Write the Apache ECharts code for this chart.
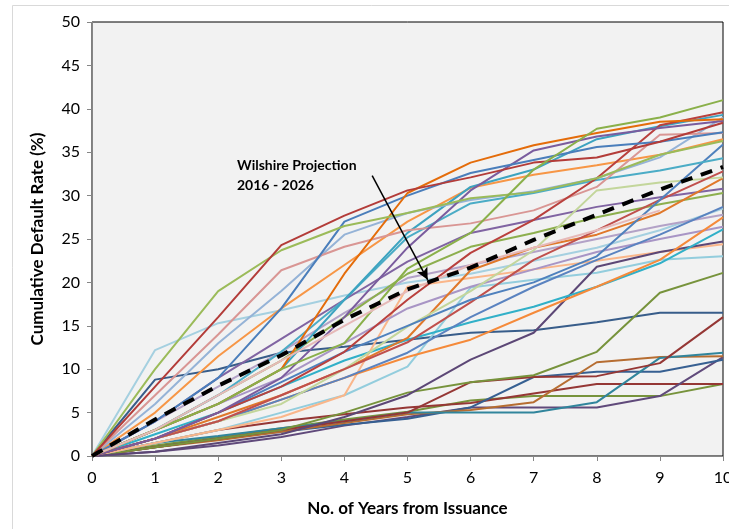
<!DOCTYPE html>
<html>
<head>
<meta charset="utf-8">
<script src="https://cdn.jsdelivr.net/npm/echarts@6/dist/echarts.min.js"></script>
<style>
  html, body { margin: 0; padding: 0; background: #fff; }
  #chart { width: 729px; height: 529px; }
</style>
</head>
<body>
<div id="chart"></div>
<script>
// years from issuance
const years = [0, 1, 2, 3, 4, 5, 6, 7, 8, 9, 10];

// cumulative default rate (%) by vintage
const vGreenTop = [0, 3, 6, 10, 13, 21.6, 25.7, 33, 37.7, 39, 41];
const vRedA = [0, 8, 16, 24.3, 27.7, 30.6, 32.1, 33.8, 34.4, 36.2, 38.4];
const vGreenB = [0, 10, 19, 23.7, 26.5, 28, 29.7, 30.4, 32, 34.7, 36.3];
const vOrangeA = [0, 3, 6, 10, 21, 30.3, 33.8, 35.8, 37.2, 38.5, 38.8];
const vBlueA = [0, 4, 9, 17, 27, 30, 32.6, 34.1, 35.6, 36.2, 37.3];
const vPurpleA = [0, 2, 5, 9, 16, 24, 30.6, 35.2, 36.8, 37.8, 38.6];
const vRedB = [0, 2, 5, 8, 12, 18, 23.4, 27.2, 32, 38.1, 39.6];
const vRose = [0, 7, 14, 21.4, 24.1, 26, 26.8, 28.3, 31, 37, 37.2];
const vPeriwinkle = [0, 6, 13, 19, 25.5, 28, 29.5, 30.5, 32, 34.4, 39];
const vTealA = [0, 3, 6, 10, 18, 25.7, 31, 33, 36.5, 38, 39.3];
const vLightOrange = [0, 5, 11.5, 17, 22, 27, 30.9, 32.4, 33.5, 34.7, 36.5];
const vSky = [0, 3, 7, 12, 18, 25.2, 29.1, 30.3, 31.8, 32.9, 34.3];
const vSteel = [0, 2, 5, 8.5, 12, 15, 18, 20, 23, 29.5, 35.9];
const vRedC = [0, 2, 4, 7, 10, 13.1, 17.7, 22.6, 26, 29.5, 32.8];
const vLightGreen = [0, 2, 4, 6, 10, 14.9, 19, 23.7, 30.6, 31.5, 32.1];
const vOrangeB = [0, 2, 4.5, 7, 10, 13.6, 21.4, 24, 25.5, 28, 32];
const vPurpleB = [0, 4, 9, 13.5, 18, 22.4, 25.7, 27.2, 28.7, 29.8, 30.8];
const vGreenC = [0, 3, 7, 11, 16, 21, 24.1, 25.7, 27.5, 29, 30.3];
const vBlueB = [0, 2, 4, 6.5, 9, 11.9, 16, 19.5, 22.6, 25.5, 28.7];
const vLavender = [0, 4, 8, 12, 16.5, 20.5, 22, 23.5, 25, 26.5, 27.8];
const vOrangeC = [0, 2, 4, 6.5, 9, 11.4, 13.4, 16.5, 19.5, 22.6, 27.5];
const vMauve = [0, 3, 6, 9, 13, 17, 19.5, 21.5, 23.5, 25, 26.4];
const vTealB = [0, 2.5, 5, 8, 11, 13.4, 15.4, 17.2, 19.5, 22.2, 26.1];
const vDarkPurple = [0, 0.5, 1.5, 2.5, 4.5, 7, 11.1, 14.2, 21.8, 23.5, 24.7];
const vPeach = [0, 1.5, 3, 4.5, 7, 19.5, 20.5, 21.5, 22.5, 23.5, 24.4];
const vLightSky = [0, 1.5, 3, 5, 7, 10.3, 19.4, 20.3, 21.1, 22.6, 23];
const vIce = [0, 12.2, 15.3, 16.8, 18.5, 20, 21, 22.5, 24, 26, 28.5];
const vGreenD = [0, 1, 2, 3, 5, 7.3, 8.5, 9.3, 12, 18.8, 21.1];
const vNavy = [0, 8.8, 10, 11.9, 12.6, 13.4, 14.2, 14.5, 15.4, 16.5, 16.5];
const vRedD = [0, 1, 2, 3, 4, 5, 8.5, 9.1, 9.2, 10.7, 16];
const vTealC = [0, 1.5, 2.3, 3.2, 4, 5, 5, 5, 6.2, 11.3, 11.9];
const vBrown = [0, 1, 1.8, 2.8, 3.8, 4.8, 5.3, 6.2, 10.8, 11.4, 11.5];
const vBlueC = [0, 1, 2, 2.8, 3.6, 4.3, 5.6, 9.1, 9.7, 9.7, 11.1];
const vPurpleC = [0, 0.5, 1.2, 2.2, 3.5, 4.5, 5.6, 5.6, 5.6, 6.9, 11.4];
const vDarkRed = [0, 1.5, 3, 4, 4.8, 5.6, 6.1, 7.2, 8.3, 8.3, 8.3];
const vGreenFlat = [0, 1.2, 2.2, 3.2, 4.2, 5.1, 6.4, 6.9, 6.9, 6.9, 8.3];
const vPalePink = [0, 3, 7, 11, 15, 19, 22, 24, 26, 28.3, null];

// Wilshire projection 2016 - 2026
const projection = [0, 4.2, 8.1, 11.6, 15.7, 19.2, 21.7, 24.9, 27.8, 30.7, 33.3];

const yTicks = { min: 0, max: 50, interval: 5 };
const annoText = "Wilshire Projection\n2016 - 2026";
// arrow in data units: from text to the dashed line
const arrowFrom = [4.44, 32.3];
const arrowTo = [5.32, 20.3];

const vintages = [
  [vGreenFlat, "#77933C"], [vDarkRed, "#953735"], [vPurpleC, "#604A7B"],
  [vBlueC, "#376092"], [vBrown, "#B66D31"], [vTealC, "#31859C"],
  [vRedD, "#953735"], [vNavy, "#385D8A"], [vGreenD, "#77933C"],
  [vIce, "#A5D0E0"], [vLightSky, "#93CDDD"], [vPeach, "#FAB68A"],
  [vDarkPurple, "#5C4776"], [vTealB, "#31B0C8"], [vMauve, "#A895C5"],
  [vOrangeC, "#F58A3A"], [vLavender, "#B3A2C7"], [vBlueB, "#5A83C0"],
  [vGreenC, "#8DAF4E"], [vPurpleB, "#8064A2"], [vOrangeB, "#E0782A"],
  [vLightGreen, "#C3D69B"], [vRedC, "#C0504D"], [vSteel, "#4F81BD"],
  [vSky, "#4BACC6"], [vLightOrange, "#F79646"], [vTealA, "#3CA3C0"],
  [vPeriwinkle, "#95B3D7"], [vRose, "#D99694"], [vRedB, "#B9403D"],
  [vPurpleA, "#7A5C9E"], [vBlueA, "#4A7EBB"], [vOrangeA, "#E46C0A"],
  [vGreenB, "#9BBB59"], [vRedA, "#B33C39"], [vGreenTop, "#8AB04A"],
  [vPalePink, "#E6B9B8"]
];

const toPairs = (vals) => years.map((x, i) => [x, vals[i]]);

const series = vintages.map(([vals, color]) => ({
  type: "line",
  data: toPairs(vals),
  symbol: "none",
  silent: true,
  lineStyle: { color: color, width: 2 },
}));

series.push({
  type: "line",
  data: toPairs(projection),
  symbol: "none",
  silent: true,
  z: 5,
  lineStyle: { color: "#000", width: 4, type: [12, 9] },
  markLine: {
    silent: true,
    symbol: ["none", "arrow"],
    symbolSize: [9, 12],
    label: { show: false },
    lineStyle: { color: "#000", width: 1.5, type: "solid" },
    data: [[{ coord: arrowFrom }, { coord: arrowTo }]],
  },
});

var chart = echarts.init(document.getElementById("chart"));
chart.setOption({
  animation: false,
  textStyle: { fontFamily: "Lato" },
  grid: {
    left: 92, right: 6, top: 22, bottom: 73,
    outerBoundsMode: "none", containLabel: false,
    show: true, backgroundColor: "#F2F2F2",
    borderColor: "#000", borderWidth: 1,
  },
  graphic: [
    {
      type: "rect", silent: true, z: -10,
      shape: { x: 12.5, y: 5.5, width: 800, height: 600 },
      style: { fill: "#fff", stroke: "#D9D9D9", lineWidth: 1 },
    },
    {
      type: "text", left: 237, top: 155, z: 20,
      style: {
        text: annoText, fill: "#000", font: "bold 14px Lato",
        align: "center", lineHeight: 20,
      },
    },
  ],
  xAxis: {
    type: "value", min: 0, max: 10, interval: 1,
    name: "No. of Years from Issuance", nameLocation: "middle", nameGap: 44,
    nameTextStyle: { fontSize: 17, fontWeight: "bold", color: "#000" },
    axisLine: { lineStyle: { color: "#868686", width: 1 } },
    axisTick: { show: true, length: 5, lineStyle: { color: "#868686" } },
    axisLabel: { fontSize: 16, color: "#000", margin: 14 },
    splitLine: { show: false },
  },
  yAxis: {
    type: "value", min: yTicks.min, max: yTicks.max, interval: yTicks.interval,
    name: "Cumulative Default Rate (%)", nameLocation: "middle", nameGap: 46,
    nameTextStyle: { fontSize: 17, fontWeight: "bold", color: "#000" },
    axisLine: { show: true, lineStyle: { color: "#868686", width: 1 } },
    axisTick: { show: true, length: 5, lineStyle: { color: "#868686" } },
    axisLabel: { fontSize: 16, color: "#000", margin: 12 },
    splitLine: { show: false },
  },
  series: series,
});
</script>
</body>
</html>
